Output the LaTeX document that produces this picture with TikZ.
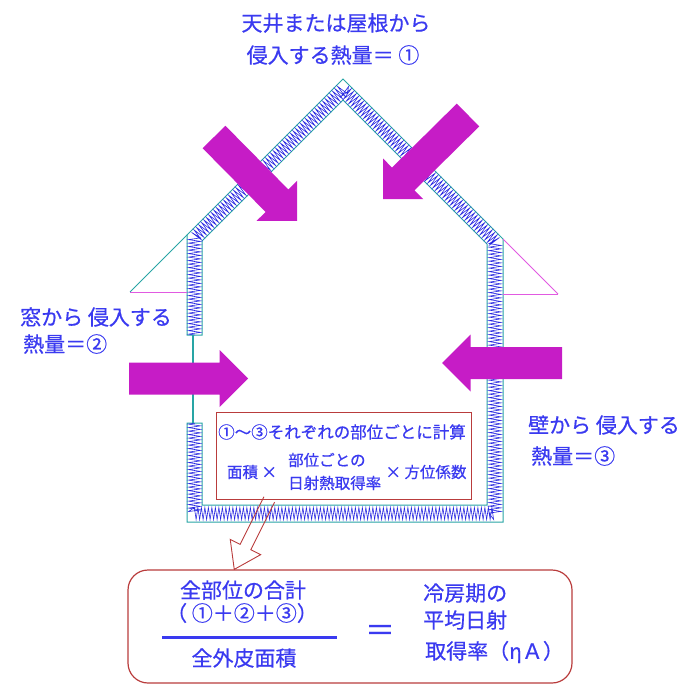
\documentclass[tikz,border=0pt]{standalone}
\usepackage{fontspec}
\newfontfamily\jp[FakeBold=0.6]{Noto Sans CJK JP}
\usetikzlibrary{positioning,calc,decorations.pathmorphing}
\definecolor{txtblue}{RGB}{58,58,240}
\definecolor{heat}{RGB}{198,28,198}
\definecolor{wallline}{RGB}{40,165,165}
\definecolor{coilblue}{RGB}{40,40,225}
\definecolor{eave}{RGB}{225,90,225}
\definecolor{frame}{RGB}{185,60,60}
\newcommand{\fatarrow}[2]% tail, tip
{\coordinate (fb) at ($(#2)!28.5pt!(#1)$);
 \fill[heat] ($(#1)!16pt!90:(#2)$) -- ($(fb)!16pt!-90:(#1)$) -- ($(fb)!28.5pt!-90:(#1)$) -- (#2)
   -- ($(fb)!28.5pt!90:(#1)$) -- ($(fb)!16pt!90:(#1)$) -- ($(#1)!16pt!-90:(#2)$) -- cycle;
}

\begin{document}
\begin{tikzpicture}[x=1pt,y=-1pt,
	lbl/.style={font=\jp\fontsize{21}{25}\selectfont, text=txtblue, inner sep=0pt},
	boxtxt/.style={font=\jp\fontsize{16.5}{19}\selectfont, text=txtblue, inner sep=0pt},
	subtxt/.style={font=\jp\fontsize{15.5}{18}\selectfont, text=txtblue, inner sep=0pt},
	coil/.style={coilblue, line width=0.6pt, decorate, decoration={zigzag, amplitude=6pt, segment length=3.5pt}}]
	\useasboundingbox (0,0) rectangle (700,700);
	% insulated shell
	\draw[wallline, fill=white, line width=1pt] (187,335) -- (187,235) -- (343,79) -- (503,239) -- (503,522) -- (187,522) -- (187,423)
		-- (202,423) -- (202,505) -- (487,505) -- (487,244) -- (343,100) -- (202,241) -- (202,335) -- cycle;
	\draw[coil] (194.5,335) -- (194.5,238) -- (343,89.5) -- (495,241.5) -- (495,513.5) -- (194.5,513.5) -- (194.5,423);
	\draw[wallline, line width=1.5pt] (193,335) -- (193,423);%window
	% eaves
	\draw[eave, line width=1pt] (130,292) -- (187,292);
	\draw[wallline, line width=1pt] (130,292) -- (187,235);
	\draw[eave, line width=1pt] (558,294) -- (503,294);
	\draw[eave, line width=1pt] (558,294) -- (503,239);
	% heat arrows
	\coordinate (rlt) at (214,137);
	\coordinate (rlh) at (297,221);
	\coordinate (rrt) at (468,115);
	\coordinate (rrh) at (383,199);
	\coordinate (wint) at (129,378.5);
	\coordinate (winh) at (248,378.5);
	\coordinate (wallt) at (562,363);
	\coordinate (wallh) at (442,363);
	\fatarrow{rlt}{rlh}
	\fatarrow{rrt}{rrh}
	\fatarrow{wint}{winh}
	\fatarrow{wallt}{wallh}
	% labels
	\node[lbl] (roof1) at (336,23){天井または屋根から};
	\node[lbl] (roof2) at (333,55){侵入する熱量＝ ①};
	\node[lbl, anchor=west] (win1) at (20,317){窓から 侵入する};
	\node[lbl, anchor=west] (win2) at (23,344){熱量＝②};
	\node[lbl, anchor=west] (wall1) at (528,425){壁から 侵入する};
	\node[lbl, anchor=west] (wall2) at (531,456){熱量＝③};
	% calculation box
	\node[draw=frame, line width=1pt, fill=white, minimum width=255pt, minimum height=87pt] (calc) at (343.5,455.5){};
	\node[boxtxt] (calc1) at (342,432){①〜③それぞれの部位ごとに計算};
	\node[subtxt] (area) at (252,472){面積 ×};
	\node[subtxt, anchor=west] (part1) at (288,460){部位ごとの};
	\node[subtxt, anchor=west] (part2) at (288,483){日射熱取得率};
	\node[subtxt] (dir) at (426,472){× 方位係数};
	% result box
	\node[draw=frame, line width=1.2pt, rounded corners=20pt, minimum width=444pt, minimum height=113pt] (sum) at (350,626.5){};
	\node[lbl] (num1) at (243,590){全部位の合計};
	\node[lbl] (num2) at (242,613){（ ①＋②＋③）};
	\draw[txtblue, line width=3pt] (162,637) -- (337,637);
	\node[lbl] (den) at (244,658){全外皮面積};
	\node[lbl, font=\jp\fontsize{30}{30}\selectfont] (eq) at (380,633){＝};
	\node[lbl, anchor=west] (res1) at (423,593){冷房期の};
	\node[lbl, anchor=west] (res2) at (423,620){平均日射};
	\node[lbl, anchor=west] (res3) at (425,652){取得率（ηＡ）};
	% hollow arrow between boxes
	\coordinate (hs) at ($(calc.south west)!0.21!(calc.south east)$);
	\coordinate (ht) at ($(sum.north west)!0.24!(sum.north east)$);
	\coordinate (hb) at ($(ht)!25pt!(hs)$);
	\draw[frame, line width=0.9pt] ($(hs)!6pt!90:(ht)$) -- ($(hb)!6pt!-90:(hs)$) -- ($(hb)!17pt!-90:(hs)$) -- (ht)
		-- ($(hb)!17pt!90:(hs)$) -- ($(hb)!6pt!90:(hs)$) -- ($(hs)!6pt!-90:(ht)$);
\end{tikzpicture}
\end{document}
